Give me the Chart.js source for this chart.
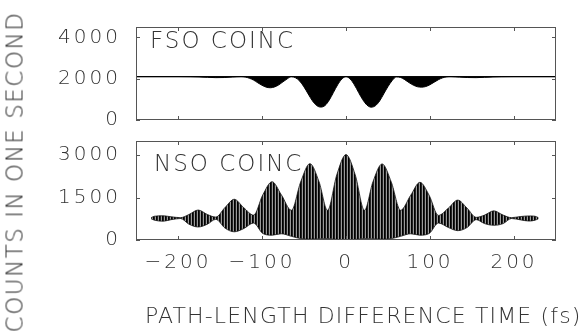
<!DOCTYPE html>
<html><head><meta charset="utf-8">
<script src="https://cdn.jsdelivr.net/npm/chart.js@4.4.0/dist/chart.umd.min.js"></script>
<style>
html,body{margin:0;padding:0;background:#fff;}
#wrap{position:relative;width:581px;height:331px;overflow:hidden;font-family:"DejaVu Sans",sans-serif;font-weight:200;color:#333;}
#wrap canvas{position:absolute;left:0;top:0;}
.lbl{position:absolute;white-space:nowrap;line-height:1;}
</style></head><body>
<div id="wrap">
<canvas id="cTop" width="581" height="331"></canvas>
<canvas id="cBot" width="581" height="331"></canvas>
<div class="lbl" id="fso" style="left:150px;top:29px;font-size:23px;letter-spacing:2px;">FSO COINC</div>
<div class="lbl" id="nso" style="left:154px;top:152px;font-size:23px;letter-spacing:2px;">NSO COINC</div>
<div class="lbl" id="ytitle" style="left:-151px;top:160px;width:331px;height:24px;line-height:24px;text-align:center;font-size:23px;letter-spacing:1.5px;transform:rotate(-90deg);">COUNTS IN ONE SECOND</div>
<div class="lbl" id="xtitle" style="left:145px;top:305px;font-size:22px;letter-spacing:1.15px;">PATH-LENGTH DIFFERENCE TIME (fs)</div>
</div>
<script>
// ---- data ----
const xTicks = [-200, -100, 0, 100, 200];
const yTicksTop = [0, 2000, 4000];
const yTicksBot = [0, 1500, 3000];

// FSO coincidence: flat level plus lower envelope of the dips
const fsoLevelT = [-250, 250];
const fsoLevel = [2100, 2100];
const tFso = [-250,-200,-185,-175,-165,-155,-145,-135,
  -125,-120,-115,-110,-105,-100,-95,-90,-85,-80,-75,-70,-65,-60,-55,-50,-45,-40,-35,-30,-25,-20,-15,-10,-5,
  0,
  5,10,15,20,25,30,35,40,45,50,55,60,65,70,75,80,85,90,95,100,105,110,115,120,125,
  135,145,155,165,175,185,200,250];
const fsoLower = [2100,2100,2095,2085,2065,2050,2055,2080,
  2100,2080,2020,1930,1800,1680,1590,1560,1600,1700,1850,1990,2100,2040,1880,1600,1260,930,700,625,700,960,1330,1700,1980,
  2100,
  1980,1700,1330,980,720,620,690,920,1270,1620,1910,2090,2060,1950,1810,1690,1610,1590,1620,1710,1830,1950,2040,2090,2100,
  2075,2055,2050,2065,2085,2095,2100,2100];

// NSO coincidence: upper and lower envelope of the fringes
const tNso = [-232,-228,-218,-208,-197,-187,-176,-165,-155,-144,-133,-122,-110,-99,-88,-77,-65,-54,-43,-32,-22,-11,
  0,
  11,22,32,43,54,65,77,88,99,110,122,133,144,155,165,176,187,197,208,218,225,229];
const nsoUpper = [790,840,855,820,790,900,1060,900,810,1150,1440,1150,880,1600,2060,1600,1050,2050,2700,2050,1050,2300,
  3020,
  2300,1050,2050,2690,2040,1050,1580,2040,1580,870,1130,1410,1130,800,880,1030,880,790,830,850,840,790];
const nsoLower = [750,700,665,720,760,560,460,560,730,420,290,400,600,230,170,220,130,50,30,40,50,20,
  10,
  20,50,40,30,50,130,220,170,230,600,440,330,440,720,580,520,580,760,710,670,700,750];

// ---- helpers ----
const pts = (xs, ys) => xs.map((x, i) => ({x, y: ys[i]}));
const TICK_FONT = {family: '"DejaVu Sans", sans-serif', size: 20, weight: '200'};

const frame = {
  id: 'frame',
  beforeDraw(chart) { chart.ctx.letterSpacing = '3px'; },
  afterDatasetsDraw(chart) {
    const {ctx, chartArea: a, scales: {x, y}} = chart;
    ctx.save();
    ctx.strokeStyle = '#555';
    ctx.lineWidth = 1;
    ctx.strokeRect(a.left + 0.5, a.top + 0.5, a.right - a.left - 1, a.bottom - a.top - 1);
    ctx.beginPath();
    x.ticks.forEach(t => {
      const px = Math.round(x.getPixelForValue(t.value)) + 0.5;
      ctx.moveTo(px, a.top); ctx.lineTo(px, a.top + 4);
      ctx.moveTo(px, a.bottom); ctx.lineTo(px, a.bottom - 4);
    });
    y.ticks.forEach(t => {
      const py = Math.round(y.getPixelForValue(t.value)) + 0.5;
      ctx.moveTo(a.left, py); ctx.lineTo(a.left + 4, py);
      ctx.moveTo(a.right, py); ctx.lineTo(a.right - 4, py);
    });
    ctx.stroke();
    ctx.restore();
  }
};

function scalesFor(yMax, yTicks, showX) {
  return {
    x: {
      type: 'linear', min: -250, max: 250,
      afterBuildTicks: s => { s.ticks = xTicks.map(v => ({value: v})); },
      afterFit: s => { s.height = showX ? 91 : 0; },
      grid: {display: false, drawTicks: false},
      border: {display: false},
      ticks: {
        display: showX, padding: 11, color: '#333', font: TICK_FONT, maxRotation: 0,
        callback: v => String(v).replace('-', '\u2212')
      }
    },
    y: {
      type: 'linear', min: 0, max: yMax,
      afterBuildTicks: s => { s.ticks = yTicks.map(v => ({value: v})); },
      afterFit: s => { s.width = 136; },
      grid: {display: false, drawTicks: false},
      border: {display: false},
      ticks: {padding: 15, color: '#333', font: TICK_FONT, callback: v => String(v)}
    }
  };
}

const common = {
  responsive: false,
  animation: false,
  events: [],
  plugins: {legend: {display: false}, tooltip: {enabled: false}},
  elements: {point: {radius: 0}}
};

// top panel
new Chart(document.getElementById('cTop'), {
  type: 'line',
  data: {
    datasets: [
      {data: pts(tFso, fsoLower), borderColor: '#000', borderWidth: 1, backgroundColor: '#000',
       fill: {value: 2100}, tension: 0.4, cubicInterpolationMode: 'monotone'},
      {data: pts(fsoLevelT, fsoLevel), borderColor: '#111', borderWidth: 1.3, fill: false}
    ]
  },
  options: Object.assign({}, common, {
    layout: {padding: {left: 0, right: 25, top: 19, bottom: 211}},
    scales: scalesFor(4500, yTicksTop, false)
  }),
  plugins: [frame]
});

// fringe-like stripe fill for the bottom panel
const pc = document.createElement('canvas');
pc.width = 3; pc.height = 1;
const pctx = pc.getContext('2d');
pctx.fillStyle = '#000'; pctx.fillRect(0, 0, 1, 1);
pctx.fillStyle = '#222'; pctx.fillRect(1, 0, 1, 1);
pctx.fillStyle = '#9a9a9a'; pctx.fillRect(2, 0, 1, 1);
const stripes = pctx.createPattern(pc, 'repeat');

new Chart(document.getElementById('cBot'), {
  type: 'line',
  data: {
    datasets: [
      {data: pts(tNso, nsoLower), borderColor: '#111', borderWidth: 0.8, fill: false,
       cubicInterpolationMode: 'monotone'},
      {data: pts(tNso, nsoUpper), borderColor: '#111', borderWidth: 0.8, backgroundColor: stripes,
       fill: '-1', cubicInterpolationMode: 'monotone'}
    ]
  },
  options: Object.assign({}, common, {
    layout: {padding: {left: 0, right: 25, top: 141, bottom: 0}},
    scales: scalesFor(3500, yTicksBot, true)
  }),
  plugins: [frame]
});
</script>
</body></html>
